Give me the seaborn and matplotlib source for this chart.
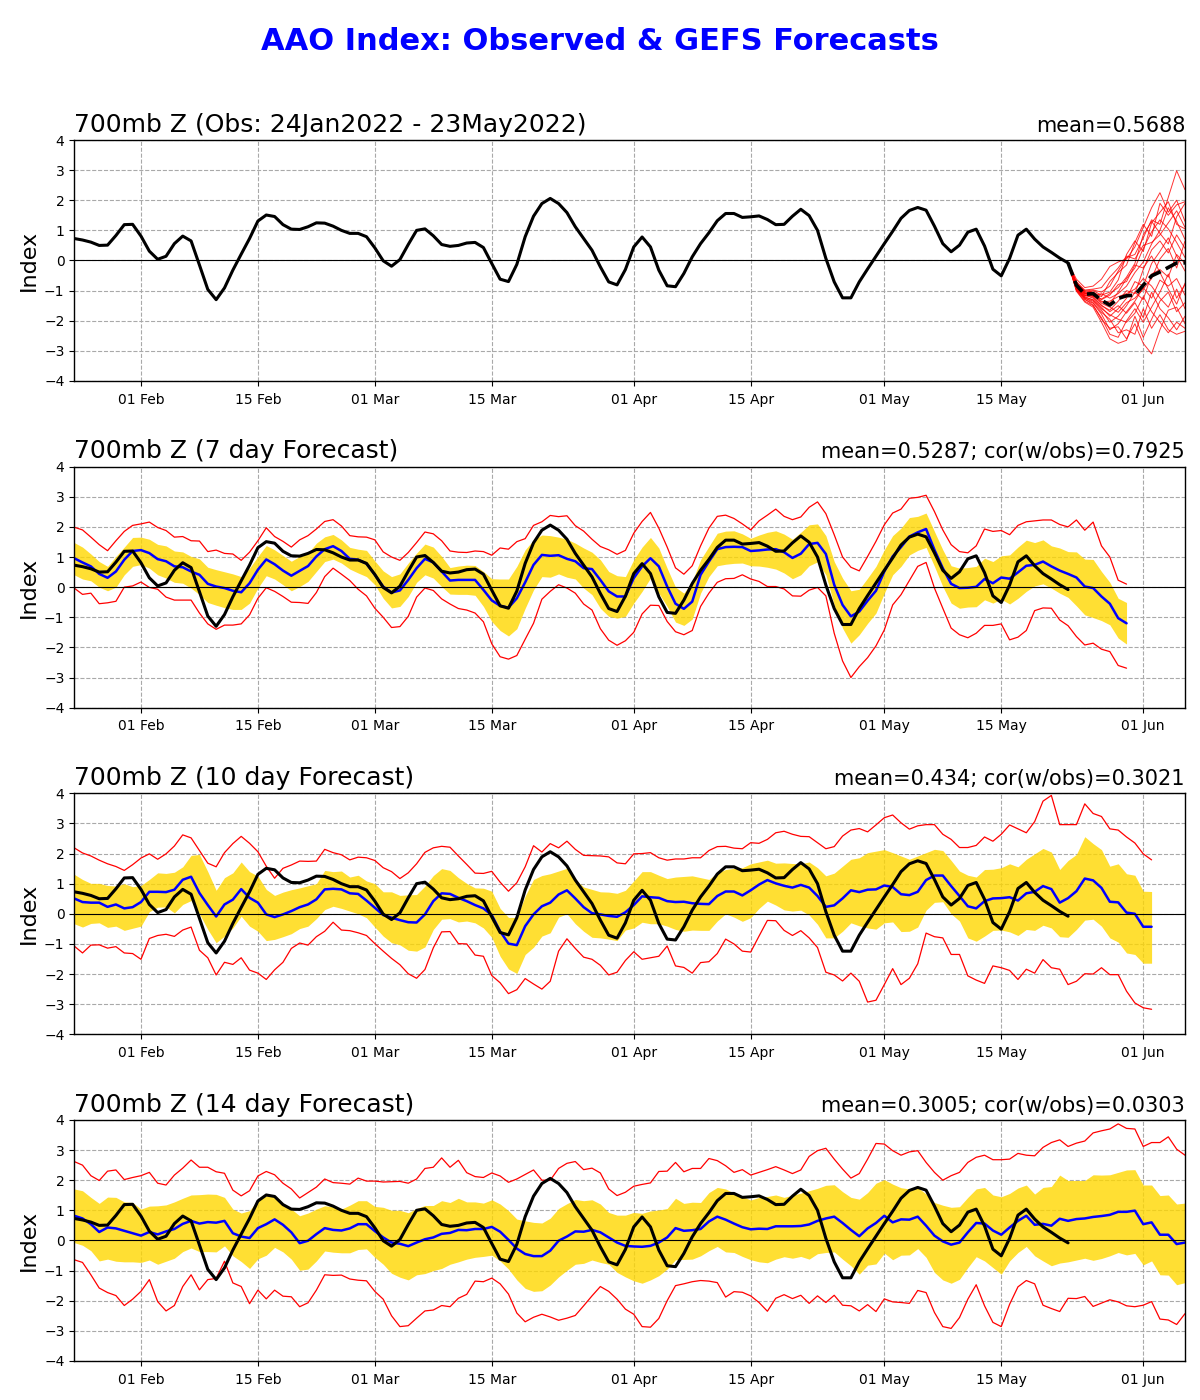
import matplotlib
matplotlib.use('Agg')
import matplotlib.pyplot as plt
import matplotlib.dates as mdates
import pandas as pd
import seaborn as sns

sns.set_style('ticks')
plt.rcParams['font.family'] = ['DejaVu Sans']
plt.rcParams['text.color'] = 'black'
plt.rcParams['axes.labelcolor'] = 'black'
plt.rcParams['xtick.color'] = 'black'
plt.rcParams['ytick.color'] = 'black'

start_day = '2022-01-24'
end_day = '2022-06-06'

# observed index, 24 Jan - 23 May
obs = [0.73,0.68,0.61,0.50,0.51,0.83,1.19,1.20,0.81,0.31,0.04,0.14,0.56,0.81,0.65,-0.15,-0.96,-1.30,-0.91,-0.32,
       0.21,0.73,1.31,1.51,1.46,1.19,1.04,1.03,1.12,1.25,1.24,1.14,1.00,0.90,0.90,0.79,0.42,-0.01,-0.19,0.03,
       0.53,1.00,1.05,0.82,0.53,0.47,0.50,0.58,0.60,0.43,-0.10,-0.62,-0.70,-0.13,0.79,1.47,1.89,2.06,1.89,1.59,
       1.12,0.73,0.34,-0.21,-0.71,-0.81,-0.30,0.45,0.78,0.45,-0.32,-0.84,-0.87,-0.43,0.12,0.56,0.92,1.32,1.56,1.56,
       1.43,1.45,1.48,1.36,1.19,1.20,1.47,1.70,1.49,1.00,0.07,-0.71,-1.24,-1.24,-0.71,-0.28,0.14,0.56,0.97,1.40,
       1.66,1.76,1.67,1.14,0.56,0.29,0.51,0.94,1.04,0.48,-0.29,-0.51,0.07,0.84,1.04,0.71,0.45,0.27,0.08,-0.08]

# GEFS members and their mean, from 23 May on
ens_mean = [-0.08,-0.82,-1.12,-1.10,-1.32,-1.48,-1.26,-1.17,-1.15,-0.82,-0.51,-0.38,-0.23,-0.08,-0.08]
member_01 = [-0.08,-0.62,-0.90,-0.85,-0.62,-0.20,-0.05,0.05,0.45,1.10,1.75,2.25,1.60,2.00,1.30]
member_02 = [-0.08,-0.70,-1.02,-0.98,-1.05,-0.85,-0.35,0.10,0.20,0.75,1.35,1.20,2.10,2.98,2.35]
member_03 = [-0.08,-0.78,-1.00,-1.05,-1.20,-0.70,-0.40,-0.15,0.60,1.20,0.80,1.90,1.50,1.85,1.95]
member_04 = [-0.08,-0.85,-1.10,-1.00,-1.15,-1.05,-0.65,0.20,0.65,0.30,1.25,1.60,1.95,1.20,1.05]
member_05 = [-0.08,-0.80,-1.08,-1.15,-1.28,-1.10,-0.90,-0.55,-0.10,0.85,1.30,0.90,0.55,1.45,1.90]
member_06 = [-0.08,-0.90,-1.18,-1.12,-1.35,-1.42,-1.05,-0.60,-0.25,0.40,0.95,1.35,1.05,0.60,0.10]
member_07 = [-0.08,-0.75,-1.06,-1.20,-1.10,-1.25,-1.10,-0.85,-0.40,-0.05,0.55,1.00,1.75,1.30,0.70]
member_08 = [-0.08,-0.88,-1.15,-1.25,-1.50,-1.65,-1.35,-1.00,-1.10,-0.30,0.35,0.65,0.25,0.85,0.40]
member_09 = [-0.08,-0.92,-1.22,-1.30,-1.55,-1.85,-1.60,-1.25,-0.70,-0.85,-0.10,0.30,0.75,0.15,-0.35]
member_10 = [-0.08,-0.83,-1.12,-1.18,-1.42,-1.55,-1.72,-1.40,-1.25,-0.95,-0.60,0.05,0.40,-0.25,0.65]
member_11 = [-0.08,-0.95,-1.25,-1.35,-1.65,-2.05,-1.85,-1.50,-1.05,-1.30,-0.45,-0.30,-0.55,0.20,-0.10]
member_12 = [-0.08,-0.98,-1.30,-1.42,-1.78,-2.30,-2.10,-1.70,-1.35,-0.90,-1.25,-0.65,-0.85,-0.60,-1.15]
member_13 = [-0.08,-1.00,-1.35,-1.50,-1.90,-2.45,-2.55,-2.00,-1.60,-2.05,-1.55,-1.05,-0.45,-1.25,-0.80]
member_14 = [-0.08,-1.02,-1.38,-1.55,-2.05,-2.60,-2.75,-2.65,-1.85,-2.55,-1.95,-1.35,-1.05,-1.70,-1.40]
member_15 = [-0.08,-0.96,-1.28,-1.48,-1.95,-2.25,-2.20,-2.60,-2.10,-2.75,-3.10,-2.30,-1.65,-1.55,-2.10]
member_16 = [-0.08,-0.93,-1.24,-1.40,-1.72,-1.95,-2.40,-2.30,-2.45,-1.60,-2.25,-1.80,-2.30,-2.45,-2.35]
member_17 = [-0.08,-0.89,-1.20,-1.32,-1.60,-1.80,-1.95,-2.05,-1.75,-1.20,-1.70,-2.05,-2.40,-2.05,-2.25]
member_18 = [-0.08,-0.86,-1.16,-1.22,-1.48,-1.70,-1.50,-1.75,-1.40,-1.90,-1.05,-1.60,-1.90,-2.30,-1.85]
member_19 = [-0.08,-0.81,-1.09,-1.16,-1.38,-1.35,-1.20,-1.10,-0.95,-0.60,-0.85,-1.25,-1.55,-0.95,-1.60]
member_20 = [-0.08,-0.76,-1.04,-1.08,-1.30,-1.15,-0.80,-0.70,-0.15,-0.25,0.15,-0.40,-0.95,-1.45,-0.75]
member_21 = [-0.08,-0.72,-0.98,-0.95,-0.90,-0.55,-0.25,0.15,0.05,0.50,0.60,0.85,1.25,1.65,1.10]
members = [member_01,member_02,member_03,member_04,member_05,member_06,member_07,member_08,member_09,member_10,
           member_11,member_12,member_13,member_14,member_15,member_16,member_17,member_18,member_19,member_20,member_21]

# 7 day lead
mean_7 = [0.96,0.82,0.69,0.44,0.31,0.52,0.91,1.20,1.23,1.13,0.93,0.86,0.69,0.66,0.52,0.41,0.11,0.02,-0.03,-0.12,
          -0.17,0.13,0.58,0.92,0.76,0.55,0.38,0.54,0.70,1.02,1.26,1.36,1.20,0.94,0.91,0.78,0.41,0.02,-0.18,-0.11,
          0.24,0.63,0.94,0.82,0.52,0.22,0.24,0.24,0.24,-0.09,-0.44,-0.62,-0.68,-0.37,0.16,0.74,1.07,1.04,1.06,0.94,
          0.86,0.63,0.60,0.24,-0.14,-0.31,-0.31,0.30,0.69,0.96,0.69,0.02,-0.55,-0.72,-0.48,0.41,0.85,1.26,1.33,1.34,
          1.33,1.20,1.22,1.25,1.26,1.16,0.97,1.11,1.43,1.47,1.10,0.08,-0.59,-0.97,-0.81,-0.45,-0.12,0.52,1.02,1.33,
          1.68,1.82,1.93,1.24,0.63,0.11,-0.03,-0.02,0.01,0.27,0.13,0.32,0.28,0.49,0.71,0.74,0.85,0.69,0.55,0.44,
          0.32,0.02,-0.03,-0.31,-0.55,-1.03,-1.20]
high_7 = [1.99,1.90,1.66,1.41,1.21,1.54,1.85,2.05,2.10,2.16,1.98,1.88,1.66,1.68,1.54,1.53,1.18,1.23,1.12,1.10,
          0.89,1.16,1.54,1.97,1.68,1.52,1.33,1.57,1.71,1.93,2.18,2.24,2.03,1.71,1.67,1.66,1.57,1.17,1.00,0.89,
          1.15,1.48,1.83,1.77,1.54,1.20,1.16,1.15,1.20,1.18,1.06,1.30,1.26,1.51,1.61,2.05,2.17,2.38,2.34,2.37,
          2.04,1.86,1.59,1.35,1.24,1.09,1.22,1.79,2.18,2.48,1.96,1.33,0.64,0.43,0.71,1.37,1.96,2.35,2.39,2.28,
          2.10,1.90,2.20,2.39,2.59,2.35,2.24,2.33,2.65,2.83,2.44,1.74,1.00,0.66,0.54,1.02,1.52,2.07,2.46,2.59,
          2.95,2.98,3.05,2.51,1.90,1.41,1.18,1.14,1.37,1.93,1.85,1.88,1.74,2.05,2.17,2.20,2.23,2.23,2.08,2.00,
          2.23,1.89,2.16,1.37,1.00,0.23,0.10]
low_7 = [-0.03,-0.24,-0.20,-0.55,-0.52,-0.47,0.00,0.04,0.17,-0.01,-0.07,-0.33,-0.43,-0.43,-0.43,-0.86,-1.22,-1.40,-1.26,-1.26,
         -1.22,-0.92,-0.37,-0.02,-0.14,-0.31,-0.50,-0.51,-0.54,-0.18,0.35,0.63,0.43,0.22,-0.07,-0.29,-0.70,-1.00,-1.34,-1.31,
         -0.97,-0.33,-0.03,-0.11,-0.39,-0.56,-0.71,-0.76,-0.86,-1.15,-1.88,-2.31,-2.39,-2.27,-1.73,-1.20,-0.40,-0.14,0.08,-0.03,
         -0.20,-0.56,-0.76,-1.38,-1.76,-1.93,-1.78,-1.50,-0.89,-0.60,-0.61,-1.14,-1.48,-1.58,-1.44,-0.64,-0.20,0.16,0.28,0.29,
         0.41,0.27,0.19,0.02,0.02,-0.06,-0.29,-0.30,-0.10,-0.01,-0.29,-1.53,-2.45,-3.00,-2.64,-2.34,-1.95,-1.42,-0.59,-0.25,
         0.22,0.69,0.82,-0.03,-0.70,-1.36,-1.58,-1.68,-1.53,-1.27,-1.27,-1.22,-1.75,-1.66,-1.44,-0.78,-0.69,-0.70,-1.09,-1.28,
         -1.64,-1.92,-1.86,-2.06,-2.14,-2.60,-2.69]
band_hi_7 = [1.48,1.33,1.10,0.85,0.69,1.02,1.33,1.65,1.66,1.59,1.42,1.37,1.20,1.17,1.02,0.94,0.66,0.58,0.51,0.44,
             0.35,0.63,1.02,1.38,1.24,1.05,0.86,1.02,1.13,1.46,1.67,1.75,1.57,1.32,1.26,1.22,0.87,0.54,0.35,0.44,
             0.80,1.13,1.43,1.33,1.02,0.65,0.70,0.73,0.72,0.52,0.28,0.27,0.27,0.69,1.24,1.57,1.73,1.71,1.66,1.59,
             1.46,1.30,1.16,0.91,0.52,0.38,0.35,0.91,1.33,1.65,1.30,0.63,0.00,-0.20,0.19,0.91,1.35,1.79,1.86,1.87,
             1.77,1.62,1.73,1.82,1.87,1.76,1.59,1.82,2.07,2.10,1.71,0.85,0.30,-0.12,-0.07,0.30,0.69,1.24,1.71,1.96,
             2.31,2.35,2.46,1.85,1.24,0.71,0.63,0.65,0.69,0.96,0.85,1.04,1.07,1.33,1.56,1.48,1.57,1.37,1.30,1.18,
             1.17,0.93,0.92,0.52,0.16,-0.37,-0.51]
band_lo_7 = [0.41,0.27,0.21,0.00,-0.12,0.00,0.41,0.69,0.75,0.63,0.41,0.30,0.16,0.13,-0.03,-0.25,-0.51,-0.60,-0.68,-0.74,
             -0.74,-0.53,-0.03,0.38,0.27,0.08,-0.12,0.02,0.19,0.52,0.85,0.93,0.80,0.60,0.47,0.35,0.08,-0.37,-0.69,-0.64,
             -0.31,0.16,0.41,0.30,0.02,-0.23,-0.24,-0.24,-0.27,-0.64,-1.14,-1.44,-1.62,-1.38,-0.70,-0.09,0.35,0.33,0.44,0.33,
             0.27,-0.03,-0.25,-0.70,-0.97,-1.03,-0.97,-0.53,-0.14,0.30,-0.20,-0.64,-1.16,-1.27,-1.06,-0.20,0.35,0.71,0.76,0.79,
             0.80,0.71,0.70,0.66,0.60,0.47,0.28,0.41,0.71,0.84,0.41,-0.59,-1.36,-1.86,-1.58,-1.20,-0.86,-0.20,0.41,0.69,
             1.07,1.22,1.32,0.69,0.02,-0.53,-0.70,-0.66,-0.65,-0.42,-0.53,-0.40,-0.56,-0.37,-0.14,0.04,0.11,-0.03,-0.20,-0.34,
             -0.62,-0.92,-1.01,-1.11,-1.25,-1.69,-1.89]

# 10 day lead
mean_10 = [0.51,0.39,0.37,0.37,0.23,0.31,0.18,0.22,0.39,0.73,0.73,0.72,0.80,1.13,1.23,0.69,0.29,-0.09,0.31,0.47,
           0.82,0.53,0.37,-0.02,-0.11,-0.02,0.09,0.22,0.31,0.48,0.81,0.83,0.81,0.68,0.66,0.44,0.20,-0.04,-0.13,-0.21,
           -0.28,-0.29,-0.02,0.42,0.68,0.66,0.53,0.42,0.29,0.18,-0.04,-0.58,-0.99,-1.04,-0.41,-0.02,0.25,0.37,0.64,0.78,
           0.51,0.22,0.02,-0.02,-0.07,-0.10,0.05,0.29,0.58,0.55,0.53,0.42,0.39,0.40,0.35,0.33,0.32,0.59,0.74,0.74,
           0.61,0.78,0.97,1.12,1.01,0.93,0.87,0.96,0.87,0.59,0.23,0.28,0.51,0.78,0.72,0.80,0.81,0.94,0.89,0.65,
           0.62,0.73,1.12,1.27,1.27,0.92,0.59,0.25,0.18,0.42,0.51,0.52,0.55,0.44,0.68,0.73,0.92,0.82,0.37,0.52,
           0.75,1.17,1.11,0.86,0.40,0.38,0.04,0.00,-0.43,-0.43]
high_10 = [2.19,2.02,1.92,1.78,1.66,1.57,1.44,1.63,1.85,1.99,1.81,1.99,2.25,2.62,2.52,2.10,1.68,1.56,2.03,2.33,
           2.57,2.34,2.06,1.58,1.18,1.51,1.62,1.75,1.74,1.75,2.14,2.03,1.96,1.79,1.88,1.86,1.77,1.53,1.40,1.17,
           1.36,1.66,2.04,2.19,2.24,2.21,1.92,1.64,1.35,1.34,1.41,1.05,0.75,1.03,1.56,2.26,2.05,2.33,2.19,2.41,
           2.14,1.94,1.93,1.92,1.89,1.69,1.66,1.99,2.00,2.03,1.86,1.78,1.82,1.82,1.86,1.86,2.10,2.23,2.24,2.18,
           2.16,2.36,2.34,2.47,2.69,2.74,2.64,2.57,2.56,2.36,2.16,2.23,2.58,2.78,2.83,2.72,2.95,3.19,3.28,3.02,
           2.81,2.92,2.96,2.96,2.64,2.47,2.20,2.20,2.27,2.55,2.41,2.64,2.95,2.82,2.69,3.06,3.74,3.93,2.96,2.96,
           2.96,3.65,3.33,3.23,2.82,2.78,2.55,2.35,1.99,1.79]
low_10 = [-1.07,-1.30,-1.04,-1.03,-1.14,-1.09,-1.30,-1.32,-1.51,-0.82,-0.72,-0.68,-0.75,-0.54,-0.44,-1.21,-1.46,-2.03,-1.61,-1.68,
          -1.46,-1.87,-1.97,-2.18,-1.86,-1.61,-1.15,-0.97,-1.04,-0.76,-0.58,-0.28,-0.54,-0.56,-0.63,-0.72,-0.99,-1.24,-1.48,-1.69,
          -1.99,-2.14,-1.85,-1.13,-0.60,-0.59,-0.99,-1.00,-1.37,-1.41,-2.05,-2.29,-2.65,-2.52,-2.15,-2.33,-2.50,-2.24,-1.24,-0.83,
          -1.15,-1.44,-1.51,-1.71,-2.03,-1.94,-1.55,-1.26,-1.51,-1.46,-1.41,-1.07,-1.73,-1.78,-1.97,-1.62,-1.59,-1.32,-0.84,-1.00,
          -1.24,-1.27,-0.74,-0.22,-0.23,-0.55,-0.72,-0.56,-0.80,-1.12,-1.94,-2.03,-2.23,-1.97,-2.24,-2.93,-2.87,-2.35,-1.82,-2.35,
          -2.14,-1.66,-0.64,-0.76,-0.80,-1.35,-1.35,-2.06,-2.20,-2.31,-1.73,-1.79,-1.88,-2.18,-1.84,-1.97,-1.52,-1.79,-1.84,-2.35,
          -2.24,-1.99,-2.00,-1.79,-2.02,-2.02,-2.57,-2.96,-3.12,-3.17]
band_hi_10 = [1.31,1.14,1.01,1.01,0.94,0.92,1.00,0.90,0.94,1.14,1.36,1.34,1.38,1.56,1.94,1.97,1.40,0.78,1.20,1.36,
              1.72,1.40,1.25,0.81,0.61,0.72,0.80,0.86,0.93,1.00,1.44,1.40,1.42,1.22,1.28,1.09,1.00,0.73,0.73,0.61,
              0.63,0.64,0.92,1.27,1.50,1.44,1.20,1.01,0.86,0.85,0.75,0.18,-0.12,-0.12,0.59,1.14,1.27,1.33,1.42,1.51,
              1.14,0.89,0.81,0.73,0.72,0.68,0.78,1.09,1.40,1.40,1.28,1.17,1.22,1.24,1.26,1.20,1.14,1.36,1.47,1.51,
              1.53,1.66,1.72,1.78,1.68,1.69,1.67,1.66,1.72,1.53,1.26,1.35,1.58,1.81,1.86,2.03,2.08,2.13,2.03,1.92,
              1.81,1.92,2.03,2.14,2.10,1.77,1.42,1.28,1.22,1.47,1.48,1.53,1.66,1.56,1.81,1.99,2.17,2.05,1.47,1.77,
              1.97,2.56,2.33,2.13,1.58,1.66,1.33,1.28,0.75,0.74]
band_lo_10 = [-0.33,-0.44,-0.32,-0.30,-0.45,-0.41,-0.55,-0.48,-0.41,0.07,0.22,0.23,0.03,0.31,0.44,0.00,-0.52,-0.96,-0.74,-0.47,
              -0.08,-0.41,-0.58,-0.89,-0.85,-0.76,-0.66,-0.49,-0.41,-0.16,0.14,0.25,0.18,0.09,0.00,-0.13,-0.44,-0.74,-0.96,-1.03,
              -1.21,-1.24,-1.10,-0.52,-0.18,-0.16,-0.27,-0.24,-0.30,-0.47,-0.78,-1.41,-1.83,-1.98,-1.35,-1.11,-0.74,-0.63,-0.11,0.00,
              -0.33,-0.58,-0.78,-0.80,-0.84,-0.89,-0.54,-0.47,-0.28,-0.33,-0.33,-0.41,-0.52,-0.58,-0.54,-0.55,-0.55,-0.24,0.00,-0.11,
              -0.25,-0.13,0.18,0.42,0.29,0.13,0.09,0.12,-0.04,-0.35,-0.80,-0.80,-0.58,-0.30,-0.40,-0.47,-0.51,-0.30,-0.27,-0.59,
              -0.58,-0.44,0.12,0.38,0.40,0.00,-0.24,-0.80,-0.91,-0.74,-0.55,-0.54,-0.60,-0.72,-0.52,-0.55,-0.38,-0.47,-0.76,-0.78,
              -0.52,-0.21,-0.18,-0.41,-0.80,-0.94,-1.30,-1.35,-1.64,-1.64]

# 14 day lead
mean_14 = [0.82,0.73,0.54,0.28,0.43,0.40,0.32,0.24,0.16,0.28,0.20,0.30,0.38,0.55,0.65,0.56,0.61,0.59,0.65,0.24,
           0.13,0.08,0.41,0.54,0.70,0.52,0.27,-0.09,-0.01,0.21,0.41,0.35,0.33,0.40,0.54,0.54,0.31,0.10,-0.07,-0.11,
           -0.19,-0.07,0.04,0.10,0.22,0.25,0.35,0.34,0.38,0.38,0.45,0.29,0.02,-0.27,-0.45,-0.52,-0.52,-0.34,-0.01,0.13,
           0.30,0.29,0.35,0.27,0.10,-0.07,-0.18,-0.20,-0.21,-0.18,-0.07,0.10,0.41,0.32,0.34,0.38,0.63,0.79,0.69,0.56,
           0.44,0.37,0.39,0.38,0.47,0.47,0.47,0.48,0.53,0.65,0.73,0.79,0.58,0.35,0.14,0.40,0.58,0.82,0.60,0.70,
           0.69,0.79,0.49,0.16,-0.03,-0.14,-0.07,0.27,0.58,0.56,0.33,0.19,0.43,0.65,0.82,0.52,0.55,0.49,0.72,0.65,
           0.71,0.73,0.78,0.81,0.85,0.95,0.95,0.99,0.54,0.60,0.19,0.19,-0.12,-0.07]
high_14 = [2.62,2.50,2.15,1.99,2.30,2.34,2.02,2.09,2.15,2.26,1.90,1.84,2.17,2.40,2.67,2.43,2.43,2.28,2.23,1.67,
           1.48,1.65,2.14,2.29,2.18,1.90,1.71,1.41,1.59,1.77,2.04,1.92,1.90,1.87,2.07,1.97,1.97,1.94,1.95,1.96,
           1.90,2.04,2.39,2.43,2.74,2.43,2.66,2.25,2.12,2.09,2.24,2.14,1.93,2.04,2.19,2.34,2.00,2.00,2.39,2.56,
           2.62,2.35,2.40,2.24,1.71,1.49,1.60,1.80,1.86,1.91,2.29,2.30,2.59,2.28,2.39,2.39,2.72,2.65,2.48,2.26,
           2.35,2.17,2.26,2.35,2.45,2.34,2.22,2.34,2.79,2.98,3.06,2.70,2.37,2.07,2.22,2.70,3.22,3.20,2.98,2.83,
           2.94,2.98,2.59,2.26,2.00,2.15,2.26,2.59,2.76,2.83,2.68,2.68,2.70,2.89,2.83,2.81,3.09,3.25,3.34,3.12,
           3.23,3.30,3.57,3.64,3.70,3.87,3.72,3.70,3.12,3.25,3.25,3.44,3.03,2.83]
low_14 = [-0.64,-0.73,-1.14,-1.58,-1.73,-1.83,-2.16,-1.95,-1.69,-1.30,-2.03,-2.34,-2.16,-1.53,-1.14,-1.64,-1.30,-1.26,-0.69,-1.41,
          -1.53,-2.10,-1.65,-1.94,-1.65,-1.85,-1.87,-2.20,-2.07,-1.65,-1.14,-1.16,-1.15,-1.28,-1.32,-1.34,-1.69,-1.95,-2.50,-2.86,
          -2.83,-2.58,-2.34,-2.31,-2.16,-2.20,-1.92,-1.79,-1.35,-1.37,-1.25,-1.44,-1.78,-2.41,-2.70,-2.55,-2.45,-2.54,-2.65,-2.58,
          -2.49,-2.17,-1.84,-1.53,-1.69,-1.95,-2.28,-2.45,-2.86,-2.88,-2.59,-2.00,-1.50,-1.44,-1.37,-1.33,-1.35,-1.40,-1.88,-1.70,
          -1.72,-1.84,-2.06,-2.35,-1.92,-1.80,-1.93,-1.82,-2.09,-1.84,-2.06,-1.82,-2.15,-2.17,-2.34,-2.13,-2.36,-1.94,-2.04,-2.06,
          -2.09,-1.66,-1.73,-2.39,-2.86,-2.92,-2.56,-1.95,-1.47,-2.17,-2.72,-2.86,-2.12,-1.54,-1.33,-1.44,-2.15,-2.26,-2.36,-1.92,
          -1.93,-1.86,-2.19,-2.08,-1.97,-2.04,-2.17,-2.20,-2.15,-2.03,-2.61,-2.64,-2.79,-2.43]
band_hi_14 = [1.71,1.65,1.43,1.23,1.44,1.43,1.28,1.26,1.04,1.14,1.15,1.18,1.28,1.40,1.51,1.52,1.54,1.53,1.43,1.04,
              0.91,0.99,1.35,1.48,1.51,1.24,1.04,0.82,0.91,1.04,1.15,1.12,1.04,1.17,1.32,1.32,1.13,1.10,1.00,1.00,
              0.92,1.06,1.16,1.16,1.32,1.26,1.40,1.28,1.28,1.24,1.35,1.21,0.99,0.71,0.65,0.60,0.58,0.74,1.06,1.22,
              1.36,1.32,1.35,1.21,0.93,0.84,0.84,0.93,0.90,0.98,1.01,1.06,1.40,1.23,1.27,1.26,1.59,1.76,1.71,1.57,
              1.46,1.34,1.43,1.46,1.51,1.43,1.50,1.57,1.65,1.73,1.83,1.85,1.62,1.43,1.37,1.59,1.90,2.02,1.87,1.75,
              1.71,1.76,1.54,1.26,1.17,1.10,1.12,1.43,1.71,1.76,1.51,1.45,1.56,1.74,1.84,1.54,1.76,1.79,2.17,1.99,
              1.99,1.99,2.18,2.17,2.18,2.26,2.34,2.35,1.84,1.84,1.49,1.51,1.21,1.24]
band_lo_14 = [-0.07,-0.16,-0.34,-0.68,-0.62,-0.69,-0.71,-0.71,-0.73,-0.65,-0.79,-0.69,-0.59,-0.37,-0.25,-0.37,-0.37,-0.38,-0.18,-0.51,
              -0.70,-0.93,-0.61,-0.49,-0.23,-0.38,-0.62,-0.99,-0.95,-0.68,-0.35,-0.39,-0.41,-0.41,-0.30,-0.28,-0.56,-0.79,-1.09,-1.22,
              -1.31,-1.14,-1.10,-1.00,-0.93,-0.79,-0.71,-0.62,-0.56,-0.53,-0.49,-0.68,-0.95,-1.31,-1.59,-1.69,-1.67,-1.48,-1.21,-0.99,
              -0.79,-0.76,-0.65,-0.73,-0.79,-1.06,-1.21,-1.34,-1.42,-1.31,-1.17,-0.95,-0.64,-0.63,-0.62,-0.51,-0.34,-0.20,-0.38,-0.40,
              -0.53,-0.64,-0.71,-0.74,-0.62,-0.54,-0.59,-0.53,-0.62,-0.44,-0.40,-0.38,-0.62,-0.84,-1.12,-0.82,-0.78,-0.42,-0.64,-0.49,
              -0.48,-0.27,-0.56,-1.06,-1.31,-1.42,-1.29,-0.90,-0.54,-0.68,-0.90,-1.12,-0.68,-0.40,-0.20,-0.51,-0.68,-0.84,-0.75,-0.71,
              -0.65,-0.59,-0.66,-0.60,-0.51,-0.40,-0.48,-0.43,-0.81,-0.68,-1.14,-1.15,-1.47,-1.40]

titles = ['700mb Z (Obs: 24Jan2022 - 23May2022)', '700mb Z (7 day Forecast)',
          '700mb Z (10 day Forecast)', '700mb Z (14 day Forecast)']
stats = ['mean=0.5688', 'mean=0.5287; cor(w/obs)=0.7925',
         'mean=0.434; cor(w/obs)=0.3021', 'mean=0.3005; cor(w/obs)=0.0303']
forecasts = [None,
             (mean_7, high_7, low_7, band_hi_7, band_lo_7),
             (mean_10, high_10, low_10, band_hi_10, band_lo_10),
             (mean_14, high_14, low_14, band_hi_14, band_lo_14)]

days = pd.date_range(start_day, end_day)
fc_days = days[119:134]

fig, axes = plt.subplots(4, 1, figsize=(12, 14), dpi=100)
fig.subplots_adjust(left=0.0618, right=0.9875, top=0.9, bottom=0.0279, hspace=0.3555)
fig.suptitle('AAO Index: Observed & GEFS Forecasts', color='blue', fontsize=22, fontweight='bold', y=0.9805)

for n, ax in enumerate(axes):
    if n == 0:
        for m in members:
            sns.lineplot(x=fc_days, y=m, ax=ax, color='red', lw=0.7, alpha=0.8, legend=False, errorbar=None)
    else:
        mean, high, low, band_hi, band_lo = forecasts[n]
        assert len(mean) == len(high) == len(low) == len(band_hi) == len(band_lo), n
        d = days[:len(mean)]
        ax.fill_between(d, band_lo, band_hi, color='gold', alpha=0.8, lw=0)
        sns.lineplot(x=d, y=high, ax=ax, color='red', lw=0.9, legend=False, errorbar=None)
        sns.lineplot(x=d, y=low, ax=ax, color='red', lw=0.9, legend=False, errorbar=None)
        sns.lineplot(x=d, y=mean, ax=ax, color='blue', lw=1.8, legend=False, errorbar=None)
    sns.lineplot(x=days[:len(obs)], y=obs, ax=ax, color='black', lw=2.2, legend=False, errorbar=None)
    if n == 0:
        sns.lineplot(x=fc_days, y=ens_mean, ax=ax, color='black', lw=2.6, ls='--', legend=False, errorbar=None)
    ax.axhline(0, color='black', lw=0.8)
    ax.set_xlim(days[0], days[-1])
    ax.set_ylim(-4, 4)
    ax.set_yticks(range(-4, 5))
    ax.xaxis.set_major_locator(mdates.DayLocator(bymonthday=[1, 15]))
    ax.xaxis.set_major_formatter(mdates.DateFormatter('%d %b'))
    ax.grid(True, ls='--', color='darkgray', lw=0.8)
    ax.tick_params(labelsize=10, length=3.5, width=0.8, color='black')
    ax.tick_params(axis='x', pad=5)
    ax.set_ylabel('Index', fontsize=16, labelpad=4)
    ax.set_xlabel('')
    ax.set_title(titles[n], loc='left', fontsize=18, pad=6)
    ax.set_title(stats[n], loc='right', fontsize=15, pad=6)
    for s in ax.spines.values():
        s.set_color('black')
        s.set_linewidth(1)

fig.savefig('out.png', dpi=100)
